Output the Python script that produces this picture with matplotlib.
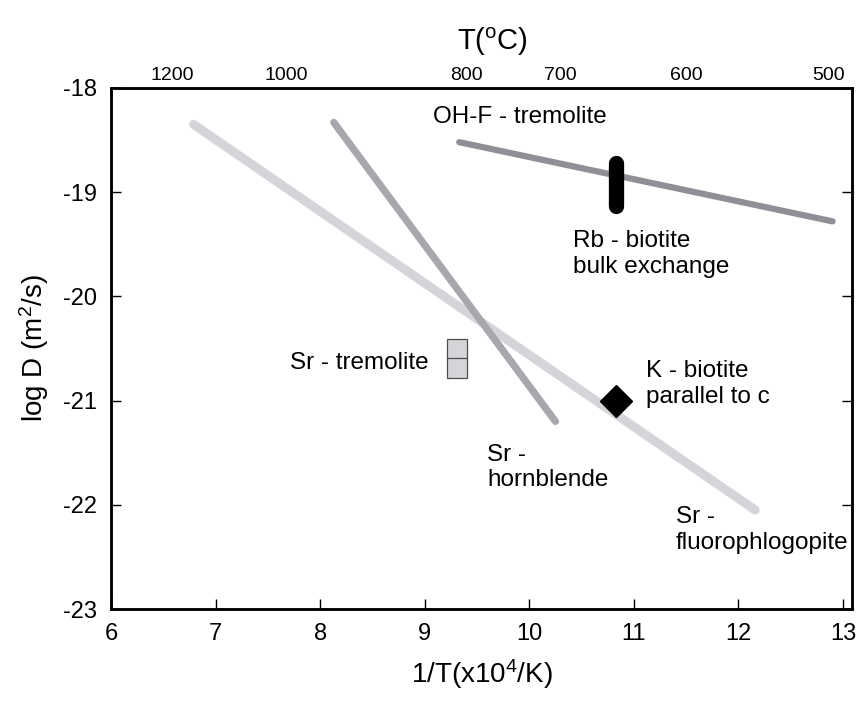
import matplotlib
matplotlib.use("Agg")
import matplotlib.pyplot as plt

plt.rcParams['font.family'] = ['Liberation Sans', 'DejaVu Sans']
plt.rcParams['mathtext.fontset'] = 'custom'
plt.rcParams['mathtext.rm'] = 'Liberation Sans'
plt.rcParams['mathtext.it'] = 'Liberation Sans'
plt.rcParams['axes.unicode_minus'] = False

# ---- data ----
fluoro_x = [6.79, 12.16]
fluoro_y = [-18.35, -22.05]
hornb_x = [8.13, 10.25]
hornb_y = [-18.33, -21.20]
ohf_x = [9.33, 12.90]
ohf_y = [-18.52, -19.28]
rb_x = [10.83, 10.83]
rb_y = [-18.72, -19.13]
k_x = [10.83]
k_y = [-21.0]
srtrem_x = [9.31, 9.31]
srtrem_y = [-20.50, -20.69]
top_labels = ['1200', '1000', '800', '700', '600', '500']
top_pos = [6.59, 7.68, 9.40, 10.30, 11.50, 12.86]
x_ticks = [6, 7, 8, 9, 10, 11, 12, 13]
y_ticks = [-23, -22, -21, -20, -19, -18]

fig = plt.figure(figsize=(8.59, 7.01), dpi=100)
ax = fig.add_axes([0.1292, 0.1312, 0.8627, 0.7433])
ax.set_xlim(6, 13.086)
ax.set_ylim(-23, -18)

ax.plot(fluoro_x, fluoro_y, color='#d4d5d9', lw=6.5, solid_capstyle='round', zorder=2)
ax.plot(hornb_x, hornb_y, color='#a7a8ad', lw=5.2, solid_capstyle='round', zorder=3)
ax.plot(ohf_x, ohf_y, color='#8f9097', lw=4.5, solid_capstyle='round', zorder=3)
ax.plot(rb_x, rb_y, color='black', lw=11, solid_capstyle='round', zorder=4)
ax.plot(k_x, k_y, marker='D', ms=16.8, color='black', ls='none', zorder=5)
ax.plot(srtrem_x, srtrem_y, marker='s', ms=14.2, mfc='#d4d5d8', mec='#4d4d4d',
        mew=0.9, ls='none', zorder=5)

fs = 17.5
ax.text(9.075, -18.275, 'OH-F - tremolite', fontsize=fs, va='center', ha='left')
ax.text(10.42, -19.593, 'Rb - biotite\nbulk exchange', fontsize=fs, va='center',
        ha='left', linespacing=1.2)
ax.text(7.71, -20.64, 'Sr - tremolite', fontsize=fs, va='center', ha='left')
ax.text(11.12, -20.84, 'K - biotite\nparallel to c', fontsize=fs, va='center',
        ha='left', linespacing=1.25)
ax.text(9.6, -21.64, 'Sr -\nhornblende', fontsize=fs, va='center', ha='left',
        linespacing=1.2)
ax.text(11.40, -22.24, 'Sr -\nfluorophlogopite', fontsize=fs, va='center',
        ha='left', linespacing=1.2)

ax.set_xticks(x_ticks)
ax.set_yticks(y_ticks)
ax.tick_params(axis='both', direction='in', length=7, width=1, labelsize=17,
               right=True, top=False)
ax.tick_params(axis='x', pad=10)
ax.tick_params(axis='y', pad=10)
for s in ax.spines.values():
    s.set_linewidth(1.8)

ax.set_xlabel(r'1/T(x10$^4$/K)', fontsize=20, labelpad=9)
ax.set_ylabel(r'log D (m$^2$/s)', fontsize=20, labelpad=9)

ax2 = ax.twiny()
ax2.set_xlim(ax.get_xlim())
ax2.set_xticks(top_pos)
ax2.set_xticklabels(top_labels)
ax2.tick_params(axis='x', length=0, labelsize=14, pad=3)
ax2.set_xlabel(r'T($^{\mathrm{o}}$C)', fontsize=21)
ax2.xaxis.get_label().set_va('bottom')
ax2.xaxis.set_label_coords(0.515, 1.0 + (88 - 58) / (609 - 88))
for s in ax2.spines.values():
    s.set_linewidth(1.8)

fig.savefig('out.png', dpi=100)
